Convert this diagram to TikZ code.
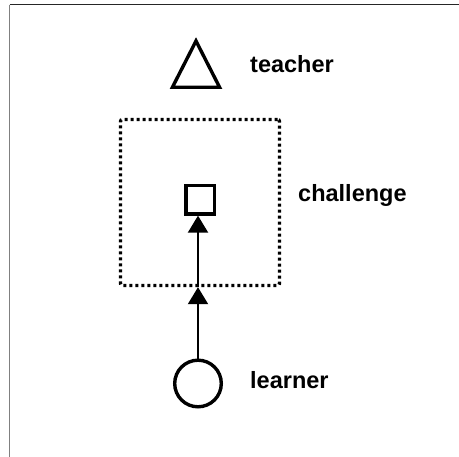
\documentclass[tikz,border=0pt]{standalone}
\usepackage{fontspec}
\setmainfont{Liberation Sans}
\usetikzlibrary{arrows.meta}
\begin{document}
\begin{tikzpicture}[x=1bp,y=1bp,
  shapeline/.style={draw=black,line width=3.4bp,fill=white,inner sep=0pt},
  label/.style={font=\bfseries\fontsize{23.5bp}{28bp}\selectfont,anchor=base west,inner sep=0pt},
  flow/.style={line width=2bp,-{Triangle[length=17bp,width=20bp]}},
  dottedframe/.style={draw=black,line width=3.4bp,dash pattern=on 3bp off 3bp,rounded corners=2bp,inner sep=0pt}]
  \useasboundingbox (0,0) rectangle (459,-457);
  % page frame (top and left edges)
  \draw[line width=1.4bp,black!85] (9.5,-4.8) -- (459,-4.8);
  \draw[line width=1.8bp,black!50] (9.5,-4.8) -- (9.5,-457);

  % teacher
  \coordinate (teacher) at (196,-64);
  \draw[line width=3.4bp,line join=miter] (196,-41) -- (172.4,-87.3) -- (219.6,-87.3) -- cycle;
  \node[label] (teacherlbl) at (250,-73) {teacher};

  % challenge
  \node[dottedframe,minimum width=159bp,minimum height=166bp] (frame) at (200,-202.5) {};
  \node[shapeline,rectangle,minimum size=28.5bp] (sq) at (200.2,-199.7) {};
  \node[label] (challengelbl) at (298,-202) {challenge};

  % learner
  \node[shapeline,circle,minimum size=46.6bp] (learner) at (198,-383.5) {};
  \node[label] (learnerlbl) at (250,-388) {learner};

  % connectors
  \draw[flow] (learner.north) -- (learner.north |- frame.south);
  \draw[flow] (learner.north |- frame.south) -- (learner.north |- sq.south);
\end{tikzpicture}
\end{document}
